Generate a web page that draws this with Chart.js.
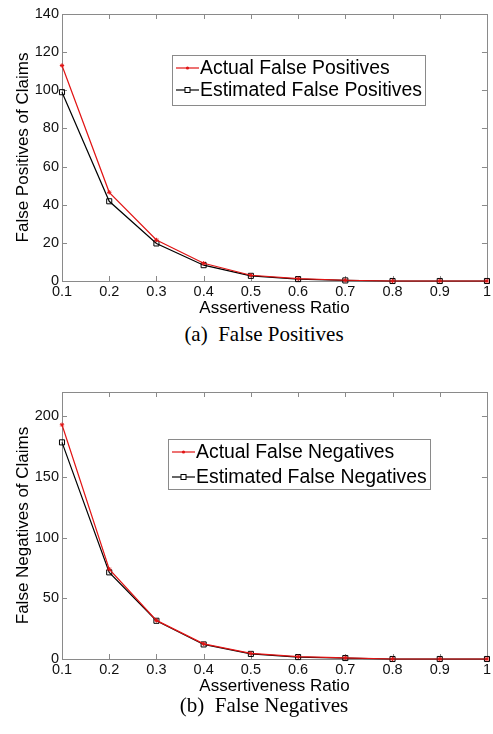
<!DOCTYPE html>
<html>
<head>
<meta charset="utf-8">
<script src="https://cdn.jsdelivr.net/npm/chart.js@4.4.1/dist/chart.umd.min.js"></script>
<style>
  html, body { margin: 0; padding: 0; background: #fff; }
  #wrap { position: relative; width: 493px; height: 734px; overflow: hidden; }
  canvas { position: absolute; left: 0; }
  .cap { position: absolute; left: 144px; width: 240px; text-align: center;
         font-family: "Liberation Serif", "Times New Roman", serif; font-size: 21px;
         line-height: 21px; color: #000; white-space: nowrap; }
</style>
</head>
<body>
<div id="wrap">
  <canvas id="c1" width="493" height="320" style="top:0px"></canvas>
  <div class="cap" style="top:324px">(a)&nbsp; False Positives</div>
  <canvas id="c2" width="493" height="320" style="top:378px"></canvas>
  <div class="cap" style="top:695px">(b)&nbsp; False Negatives</div>
</div>
<script>
// ---- data ----
const categories = ['0.1', '0.2', '0.3', '0.4', '0.5', '0.6', '0.7', '0.8', '0.9', '1'];
const actualFalsePositives    = [113, 46.5, 21.5, 9.3, 3.0, 1.2, 0.4, 0, 0, 0];
const estimatedFalsePositives = [99, 41.8, 19.7, 8.3, 2.7, 1.0, 0.3, 0, 0, 0];
const actualFalseNegatives    = [193, 74, 31.8, 12.5, 4.6, 1.9, 1.0, 0, 0, 0];
const estimatedFalseNegatives = [178.5, 71.4, 31.5, 12.0, 4.2, 1.6, 0.8, 0, 0, 0];
const fpTicks = { min: 0, max: 140, step: 20 };
const fnTicks = { min: 0, max: 220, step: 50 };
const xTitle = 'Assertiveness Ratio';

const SANS = '"Liberation Sans", Arial, Helvetica, sans-serif';
const RED = 'rgb(225,20,20)';
const BOXCOL = '#8a8a8a';

// Box + inner ticks (MATLAB style)
const boxPlugin = {
  id: 'boxTicks',
  beforeDatasetsDraw(chart) {
    const { ctx, chartArea: a, scales } = chart;
    ctx.save();
    ctx.strokeStyle = BOXCOL;
    ctx.lineWidth = 1;
    const L = 5;
    ctx.beginPath();
    const xs = scales.x, ys = scales.y;
    xs.ticks.forEach((t, i) => {
      const px = Math.round(xs.getPixelForTick(i)) + 0.5;
      ctx.moveTo(px, a.bottom); ctx.lineTo(px, a.bottom - L);
      ctx.moveTo(px, a.top); ctx.lineTo(px, a.top + L);
    });
    ys.ticks.forEach((t, i) => {
      const py = Math.round(ys.getPixelForTick(i)) + 0.5;
      ctx.moveTo(a.left, py); ctx.lineTo(a.left + L, py);
      ctx.moveTo(a.right, py); ctx.lineTo(a.right - L, py);
    });
    ctx.stroke();
    ctx.strokeRect(Math.round(a.left) + 0.5, Math.round(a.top) + 0.5,
                   Math.round(a.right - a.left), Math.round(a.bottom - a.top));
    ctx.restore();
  }
};

// In-plot legend box
const boxLegend = {
  id: 'boxLegend',
  afterDatasetsDraw(chart, args, opts) {
    const { ctx, chartArea: a } = chart;
    const ds = chart.data.datasets;
    ctx.save();
    ctx.font = '19.4px ' + SANS;
    let maxW = 0;
    ds.forEach(d => { maxW = Math.max(maxW, ctx.measureText(d.label).width); });
    const x0 = a.left + opts.dx, y0 = a.top + opts.dy;
    const lineLen = 23, padL = 4, gap = 1, padR = 3;
    const w = padL + lineLen + gap + maxW + padR;
    const h = opts.h;
    ctx.fillStyle = '#fff';
    ctx.fillRect(x0, y0, w, h);
    ctx.strokeStyle = BOXCOL;
    ctx.lineWidth = 1;
    ctx.strokeRect(Math.round(x0) + 0.5, Math.round(y0) + 0.5, Math.round(w), Math.round(h));
    ds.forEach((d, i) => {
      const cy = y0 + opts.first + i * opts.row;
      ctx.strokeStyle = d.borderColor;
      ctx.lineWidth = d.borderWidth;
      ctx.beginPath();
      ctx.moveTo(x0 + padL, cy); ctx.lineTo(x0 + padL + lineLen, cy);
      ctx.stroke();
      const mx = x0 + padL + lineLen / 2;
      if (d.pointStyle === 'rect') {
        ctx.fillStyle = '#fff';
        ctx.fillRect(mx - 2.5, cy - 2.5, 5, 5);
        ctx.lineWidth = 1;
        ctx.strokeRect(mx - 2.5, cy - 2.5, 5, 5);
      } else {
        ctx.fillStyle = d.borderColor;
        ctx.beginPath(); ctx.arc(mx, cy, 1.6, 0, Math.PI * 2); ctx.fill();
      }
      ctx.fillStyle = '#000';
      ctx.textBaseline = 'middle';
      ctx.textAlign = 'left';
      ctx.fillText(d.label, x0 + padL + lineLen + gap, cy + 1);
    });
    ctx.restore();
  }
};

function makeChart(id, actual, estimated, labA, labE, yTitle, yt, legendOpts) {
  return new Chart(document.getElementById(id), {
    type: 'line',
    data: {
      labels: categories,
      datasets: [
        { label: labA, data: actual, borderColor: RED, backgroundColor: RED,
          borderWidth: 1.2, pointStyle: 'star', pointRadius: 2.2, pointBorderWidth: 1,
          pointBorderColor: RED, tension: 0, clip: false },
        { label: labE, data: estimated, borderColor: '#000', backgroundColor: 'rgba(255,255,255,0)',
          borderWidth: 1.2, pointStyle: 'rect', pointRadius: 3.6, pointBorderWidth: 1,
          pointBorderColor: '#000', tension: 0, clip: false }
      ]
    },
    options: {
      responsive: false,
      animation: false,
      devicePixelRatio: 1,
      layout: { padding: { top: 14, right: 5, left: 0, bottom: 0 } },
      plugins: {
        legend: { display: false },
        tooltip: { enabled: false },
        boxLegend: legendOpts
      },
      scales: {
        x: {
          type: 'category',
          offset: false,
          grid: { display: false, drawTicks: false },
          border: { display: false },
          ticks: { color: '#111', font: { family: SANS, size: 14.5 }, padding: 2,
                   maxRotation: 0, autoSkip: false },
          title: { display: true, text: xTitle, color: '#000',
                   font: { family: SANS, size: 17 }, padding: { top: 0, bottom: 1.5 } },
          afterFit(s) { s.height = 39; }
        },
        y: {
          min: yt.min, max: yt.max,
          grid: { display: false, drawTicks: false },
          border: { display: false },
          ticks: { stepSize: yt.step, includeBounds: false, color: '#111',
                   font: { family: SANS, size: 14.5 }, padding: 3 },
          title: { display: true, text: yTitle, color: '#000',
                   font: { family: SANS, size: 17 }, padding: { top: 13.5, bottom: 0 } },
          afterFit(s) { s.width = 62; }
        }
      }
    },
    plugins: [boxPlugin, boxLegend]
  });
}

makeChart('c1', actualFalsePositives, estimatedFalsePositives,
  'Actual False Positives', 'Estimated False Positives',
  'False Positives of Claims', fpTicks, { dx: 110, dy: 41, h: 50, first: 13, row: 22 });
makeChart('c2', actualFalseNegatives, estimatedFalseNegatives,
  'Actual False Negatives', 'Estimated False Negatives',
  'False Negatives of Claims', fnTicks, { dx: 106, dy: 47, h: 50, first: 13, row: 25 });
</script>
</body>
</html>
